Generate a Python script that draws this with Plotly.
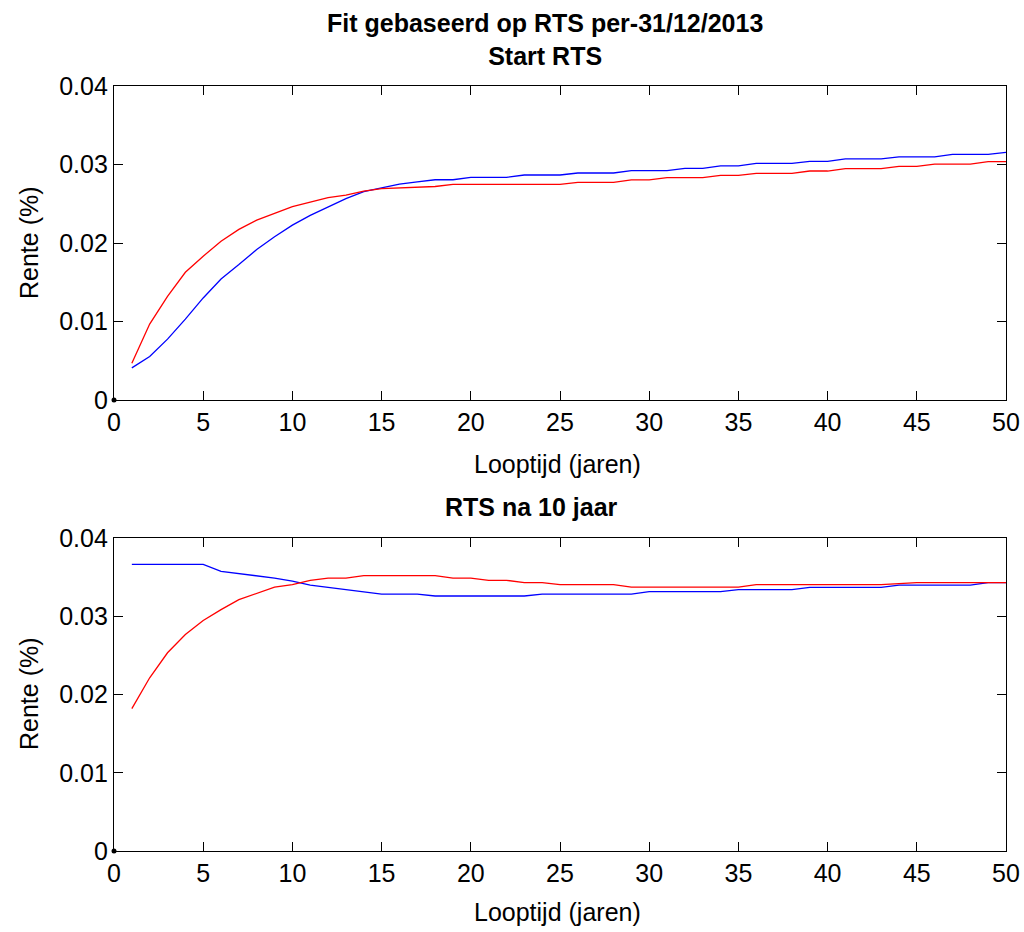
import plotly.graph_objects as go

years = list(range(1, 51))

# Top panel: Start RTS
start_blue = [0.00409, 0.00554, 0.00775, 0.0103, 0.0130, 0.01542, 0.01725, 0.01917, 0.0208, 0.02228,
              0.02351, 0.02462, 0.02565, 0.02654, 0.02705, 0.0275, 0.0278, 0.02806, 0.02806, 0.02836,
              0.02836, 0.02836, 0.02866, 0.02866, 0.02866, 0.02892, 0.02892, 0.02892, 0.02922, 0.02922,
              0.02922, 0.02951, 0.02951, 0.02983, 0.02983, 0.03015, 0.03015, 0.03015, 0.03041, 0.03041,
              0.03071, 0.03071, 0.03071, 0.03098, 0.03098, 0.03098, 0.03128, 0.03128, 0.03128, 0.03155]
start_red = [0.00469, 0.00967, 0.0132, 0.01627, 0.01832, 0.02023, 0.02173, 0.02292, 0.02377, 0.02462,
             0.0252, 0.02577, 0.0261, 0.02662, 0.02692, 0.0270, 0.0271, 0.0272, 0.02747, 0.02747,
             0.02747, 0.02747, 0.02747, 0.02747, 0.02747, 0.02773, 0.02773, 0.02773, 0.02803, 0.02803,
             0.02832, 0.02832, 0.02832, 0.02862, 0.02862, 0.02887, 0.02887, 0.02887, 0.02917, 0.02917,
             0.02947, 0.02947, 0.02947, 0.02977, 0.02977, 0.03006, 0.03006, 0.03006, 0.03036, 0.03036]

# Bottom panel: RTS na 10 jaar
after_blue = [0.03662, 0.03662, 0.03662, 0.03662, 0.03662, 0.03573, 0.03544, 0.03518, 0.03488, 0.0345,
              0.03399, 0.03369, 0.0334, 0.0331, 0.03284, 0.03284, 0.03284, 0.03259, 0.03259, 0.03259,
              0.03259, 0.03259, 0.03259, 0.03284, 0.03284, 0.03284, 0.03284, 0.03284, 0.03284, 0.03314,
              0.03314, 0.03314, 0.03314, 0.03314, 0.0334, 0.0334, 0.0334, 0.0334, 0.03369, 0.03369,
              0.03369, 0.03369, 0.03369, 0.03399, 0.03399, 0.03399, 0.03399, 0.03399, 0.0343, 0.0343]
after_red = [0.01819, 0.02214, 0.02533, 0.02766, 0.02945, 0.03085, 0.03212, 0.03297, 0.03373, 0.03404,
             0.03459, 0.03488, 0.03488, 0.03518, 0.03518, 0.03518, 0.03518, 0.03518, 0.03488, 0.03488,
             0.03459, 0.03459, 0.0343, 0.0343, 0.03404, 0.03404, 0.03404, 0.03404, 0.03373, 0.03373,
             0.03373, 0.03373, 0.03373, 0.03373, 0.03373, 0.03404, 0.03404, 0.03404, 0.03404, 0.03404,
             0.03404, 0.03404, 0.03404, 0.03417, 0.0343, 0.0343, 0.0343, 0.0343, 0.0343, 0.0343]

x_ticks = [0, 5, 10, 15, 20, 25, 30, 35, 40, 45, 50]
y_ticks = [0, 0.01, 0.02, 0.03, 0.04]
y_ticklabels = ["0", "0.01", "0.02", "0.03", "0.04"]

W, H = 1024, 932
FONT = "Liberation Sans, Arial, sans-serif"

def px_x(p):
    return p / W

def px_y(p):
    return 1 - p / H

fig = go.Figure()
for xa, ya, b, r in [("x", "y", start_blue, start_red), ("x2", "y2", after_blue, after_red)]:
    fig.add_trace(go.Scatter(x=years, y=b, mode="lines", line=dict(color="#0000ff", width=1.3),
                             xaxis=xa, yaxis=ya, showlegend=False))
    fig.add_trace(go.Scatter(x=years, y=r, mode="lines", line=dict(color="#ff0000", width=1.3),
                             xaxis=xa, yaxis=ya, showlegend=False))
    fig.add_trace(go.Scatter(x=[0], y=[0], mode="markers", marker=dict(color="black", size=5),
                             xaxis=xa, yaxis=ya, showlegend=False, cliponaxis=False))

axis_common = dict(showline=True, linecolor="black", linewidth=1.2, mirror="ticks",
                   ticks="inside", ticklen=9, tickcolor="black", tickwidth=1,
                   showgrid=False, zeroline=False, automargin=False,
                   tickfont=dict(family=FONT, size=25, color="black"))

xdom = [px_x(114), px_x(1006)]
fig.update_layout(
    template="none",
    width=W, height=H,
    margin=dict(l=0, r=0, t=0, b=0, pad=0),
    paper_bgcolor="white", plot_bgcolor="white",
    hovermode=False,
    xaxis=dict(domain=xdom, range=[0, 50], tickvals=x_ticks, anchor="y", **axis_common),
    yaxis=dict(domain=[px_y(400), px_y(86)], range=[0, 0.04], tickvals=y_ticks,
               ticktext=y_ticklabels, anchor="x", **axis_common),
    xaxis2=dict(domain=xdom, range=[0, 50], tickvals=x_ticks, anchor="y2", **axis_common),
    yaxis2=dict(domain=[px_y(851), px_y(538)], range=[0, 0.04], tickvals=y_ticks,
                ticktext=y_ticklabels, anchor="x2", **axis_common),
)

def ann(text, xc, yc, size, bold=False, angle=0):
    fig.add_annotation(text=("<b>%s</b>" % text) if bold else text,
                       x=px_x(xc), y=px_y(yc), xref="paper", yref="paper",
                       showarrow=False, xanchor="center", yanchor="middle", textangle=angle,
                       font=dict(family=FONT, size=size, color="black"))

ann("Fit gebaseerd op RTS per-31/12/2013<br>Start RTS", 545, 40, 25, bold=True)
ann("RTS na 10 jaar", 531, 507, 25, bold=True)
ann("Looptijd (jaren)", 557, 464, 25)
ann("Looptijd (jaren)", 557, 912, 25)
ann("Rente (%)", 29, 243, 25, angle=-90)
ann("Rente (%)", 29, 694, 25, angle=-90)

# remove the default 8px page margin so the figure fills the window exactly
fig.write_html("out.html", config={"displayModeBar": False},
               post_script="document.body.style.margin='0';document.body.style.overflow='hidden';")
